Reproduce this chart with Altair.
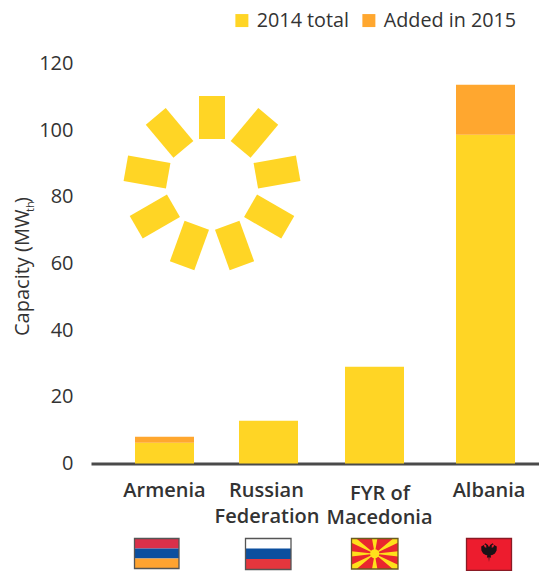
import math
import altair as alt
import pandas as pd

# ---- chart values ----
categories = ["Armenia", "Russian Federation", "FYR of Macedonia", "Albania"]
total_2014 = [6.2, 12.8, 29.0, 98.6]
added_2015 = [1.8, 0.0, 0.0, 15.0]
series_names = ["2014 total", "Added in 2015"]
y_ticks = [0, 20, 40, 60, 80, 100, 120]

# ---- layout (page pixels converted to scale units) ----
LEFT, BASE, PX_PER_UNIT = 91.0, 463.5, 400 / 120
FONT = "Open Sans"
YELLOW, ORANGE = "#FFD525", "#FFA72F"
INK = "#333333"
PLOT_W = 448


def ux(px):
    return px - LEFT


def uy(py):
    return (BASE - py) / PX_PER_UNIT


x_scale = alt.Scale(domain=[0, PLOT_W], range=[0, PLOT_W], nice=False, zero=False, padding=0)
y_scale = alt.Scale(domain=[0, 120], nice=False, zero=True, padding=0)
x_axis = alt.Axis(labels=False, ticks=False, grid=False, domainColor="#4a4a4a", domainWidth=2.8, title=None)
y_axis = alt.Axis(
    values=y_ticks,
    domain=False,
    ticks=False,
    grid=False,
    labelFont=FONT,
    labelFontSize=20,
    labelColor=INK,
    labelPadding=18,
    title=None,
)
X = lambda f: alt.X(f, type="quantitative", scale=x_scale, axis=x_axis)
Y = lambda f: alt.Y(f, type="quantitative", scale=y_scale, axis=y_axis)

# bars
bar_centers = [164.5, 268.5, 374.5, 485.5]
rows = []
for c, cx, a, b in zip(categories, bar_centers, total_2014, added_2015):
    rows.append(dict(cat=c, x=ux(cx), base=0, top=a, series=series_names[0]))
    if b > 0:
        rows.append(dict(cat=c, x=ux(cx), base=a, top=a + b, series=series_names[1]))
bars = (
    alt.Chart(pd.DataFrame(rows))
    .mark_bar(size=59, strokeWidth=0)
    .encode(
        x=X("x"),
        y=Y("base"),
        y2="top:Q",
        color=alt.Color(
            "series:N",
            scale=alt.Scale(domain=series_names, range=[YELLOW, ORANGE]),
            legend=alt.Legend(
                title=None,
                orient="none",
                legendX=ux(232),
                legendY=-53,
                columns=2,
                symbolType="square",
                symbolSize=169,
                symbolStrokeWidth=0,
                symbolOpacity=1,
                labelFont=FONT,
                labelFontSize=19.75,
                labelColor=INK,
                labelOffset=5,
                columnPadding=10,
                padding=0,
            ),
        ),
    )
)

# sun icon
ray_angles = [0, 40, 80, 120, 160, 200, 240, 280, 320]
sun_cx, sun_cy, r0, r1 = 212.0, 183.5, 44.5, 87.5
sun = (
    alt.Chart(
        pd.DataFrame(
            [
                dict(
                    x=ux(sun_cx + r0 * math.sin(math.radians(a))),
                    x2=ux(sun_cx + r1 * math.sin(math.radians(a))),
                    y=uy(sun_cy - r0 * math.cos(math.radians(a))),
                    y2=uy(sun_cy - r1 * math.cos(math.radians(a))),
                )
                for a in ray_angles
            ]
        )
    )
    .mark_rule(color=YELLOW, strokeWidth=26, strokeCap="butt")
    .encode(x=X("x"), x2="x2:Q", y=Y("y"), y2="y2:Q")
)

# category labels
label_lines = [
    ("Armenia", 164.5, 491),
    ("Russian", 266.5, 491),
    ("Federation", 267, 517),
    ("FYR of", 380, 494),
    ("Macedonia", 379.5, 518),
    ("Albania", 489, 491),
]
labels = (
    alt.Chart(pd.DataFrame([dict(t=t, x=ux(a), y=uy(b)) for t, a, b in label_lines]))
    .mark_text(font=FONT, fontSize=20, fontWeight=600, color=INK, baseline="middle", align="center")
    .encode(x=X("x"), y=Y("y"), text="t:N")
)

# axis title, with a real subscript
title_parts = [
    ("Capacity (MW", 336, 20, 29),
    ("th", 212, 11, 34),
    (")", 203, 20, 29),
]
title_layers = []
for t, py, fs, bx in title_parts:
    title_layers.append(
        alt.Chart(pd.DataFrame([dict(t=t, x=ux(bx), y=uy(py))]))
        .mark_text(font=FONT, fontSize=fs, color=INK, angle=270, align="left", baseline="alphabetic")
        .encode(x=X("x"), y=Y("y"), text="t:N")
    )

# flags
flag_stripes = [
    (134.5, 179, 538.5, 548.5, "#D9304A"),
    (134.5, 179, 548.5, 558.5, "#0B4F9F"),
    (134.5, 179, 558.5, 568.5, "#FFA330"),
    (245.5, 291, 538.5, 548.5, "#FFFFFF"),
    (245.5, 291, 548.5, 559, "#0B4F9F"),
    (245.5, 291, 559, 569.5, "#E5363D"),
    (351.5, 398, 538.5, 569, "#E9262E"),
    (466.5, 511.5, 538.5, 570.5, "#ED1C2E"),
]
flag_df = pd.DataFrame(
    [dict(x=ux(a), x2=ux(b), y=uy(c), y2=uy(d), c=col) for a, b, c, d, col in flag_stripes]
)
stripes = (
    alt.Chart(flag_df)
    .mark_rect(strokeWidth=0)
    .encode(x=X("x"), x2="x2:Q", y=Y("y"), y2="y2:Q", fill=alt.Fill("c:N", scale=None))
)

frames = [
    (134.5, 179, 538.5, 568.5, "#555555"),
    (245.5, 291, 538.5, 569.5, "#555555"),
    (351.5, 398, 538.5, 569, "#6b5a20"),
    (466.5, 511.5, 538.5, 570.5, "#8a1a24"),
]
frame_df = pd.DataFrame(
    [dict(x=ux(a), x2=ux(b), y=uy(c), y2=uy(d), c=col) for a, b, c, d, col in frames]
)

rays_path = (
    "M-0.115,-0.65L0.115,-0.65L0,0Z M-0.115,0.65L0.115,0.65L0,0Z "
    "M-1,-0.115L-1,0.115L0,0Z M1,-0.115L1,0.115L0,0Z "
    "M-1,-0.65L-0.78,-0.65L0,0L-1,-0.47Z M1,-0.65L0.78,-0.65L0,0L1,-0.47Z "
    "M-1,0.65L-0.78,0.65L0,0L-1,0.47Z M1,0.65L0.78,0.65L0,0L1,0.47Z"
)
centre = pd.DataFrame([dict(x=ux(374.7), y=uy(553.8))])
mk_rays = (
    alt.Chart(centre)
    .mark_point(shape=rays_path, size=46.5**2, filled=True, color="#FFE01B", opacity=1, strokeWidth=0)
    .encode(x=X("x"), y=Y("y"))
)
mk_disc = (
    alt.Chart(centre)
    .mark_point(shape="circle", size=85, filled=True, color="#FFE01B", opacity=1, strokeWidth=0)
    .encode(x=X("x"), y=Y("y"))
)
eagle_path = (
    "M0,-0.55L-0.12,-0.8L-0.38,-0.98L-0.5,-0.85L-0.3,-0.78L-0.28,-0.5L-0.45,-0.55L-0.55,-0.8"
    "L-0.82,-0.62L-0.8,-0.2L-0.62,0.1L-0.35,0.25L-0.18,0.3L-0.22,0.55L-0.05,0.5L0,1"
    "L0.05,0.5L0.22,0.55L0.18,0.3L0.35,0.25L0.62,0.1L0.8,-0.2L0.82,-0.62L0.55,-0.8"
    "L0.45,-0.55L0.28,-0.5L0.3,-0.78L0.5,-0.85L0.38,-0.98L0.12,-0.8Z"
)
eagle = (
    alt.Chart(pd.DataFrame([dict(x=ux(489), y=uy(552.5))]))
    .mark_point(shape=eagle_path, size=19**2, filled=True, color="#1a1216", opacity=1, strokeWidth=0)
    .encode(x=X("x"), y=Y("y"))
)
frame_marks = (
    alt.Chart(frame_df)
    .mark_rect(fillOpacity=0, strokeWidth=1.3)
    .encode(x=X("x"), x2="x2:Q", y=Y("y"), y2="y2:Q", stroke=alt.Stroke("c:N", scale=None))
)

chart = (
    alt.layer(bars, sun, labels, *title_layers, stripes, mk_rays, mk_disc, eagle, frame_marks)
    .properties(
        width=PLOT_W,
        height=400,
        autosize=alt.AutoSizeParams(type="none"),
        padding={"left": 83, "top": 55.5, "right": 0, "bottom": 107.5},
    )
    .configure_view(stroke=None)
)

chart.save("out.html", embed_options={"renderer": "svg", "actions": False})
